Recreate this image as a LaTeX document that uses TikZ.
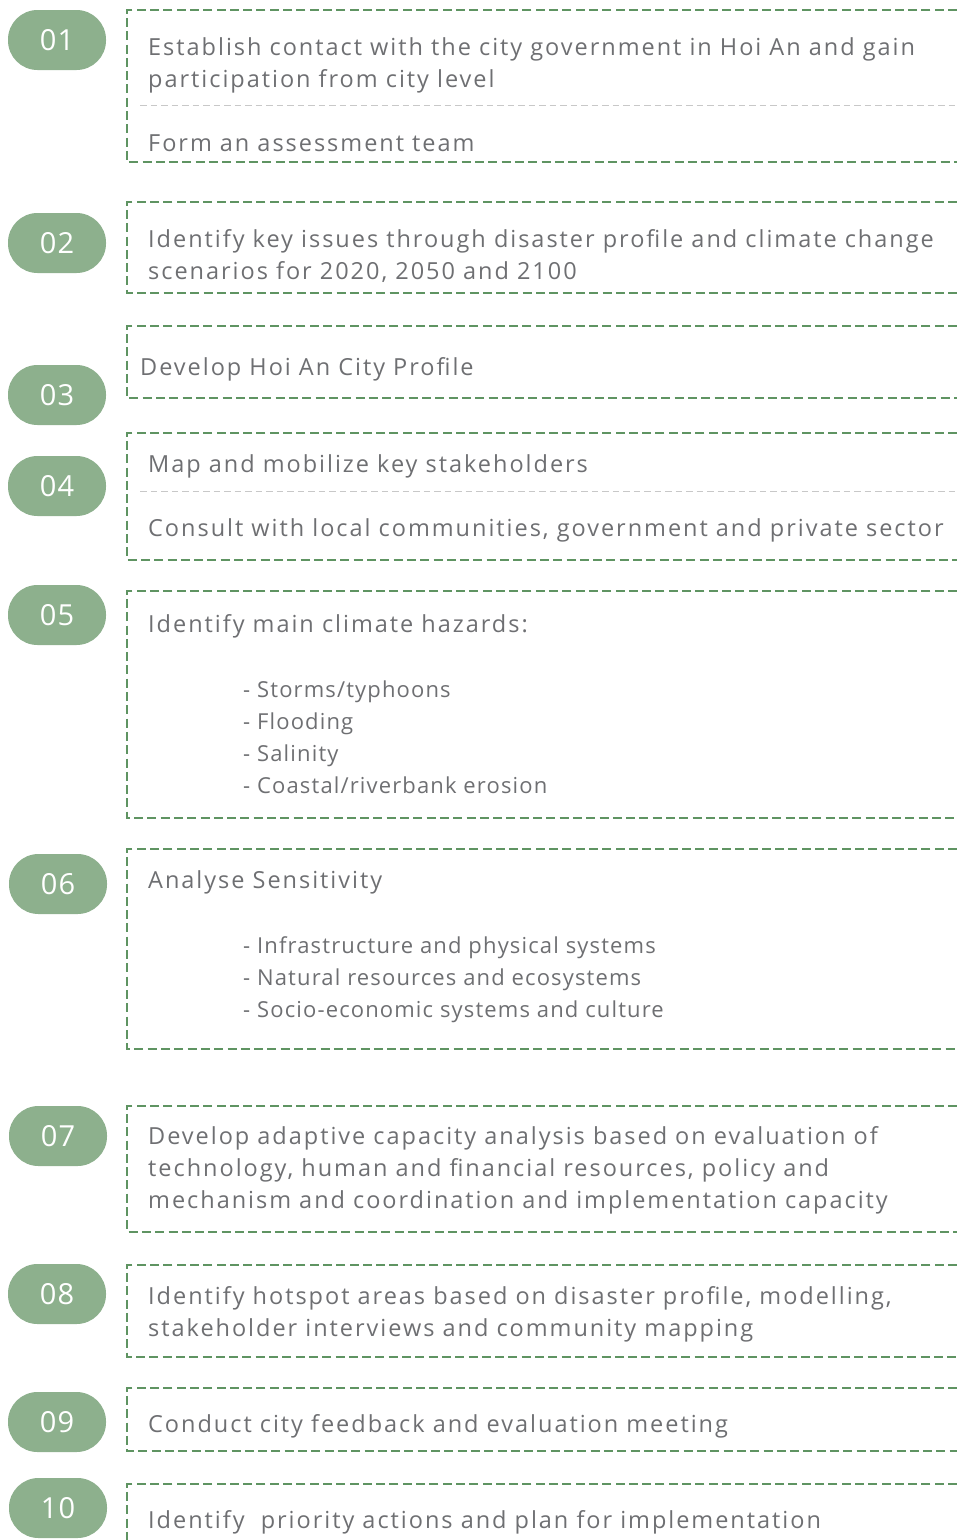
\documentclass[tikz,border=0pt]{standalone}
\usepackage{fontspec}
\newfontfamily\bodyfont[LetterSpace=8.4]{Open Sans}
\newfontfamily\bulletfont[LetterSpace=5.2]{Open Sans}
\newfontfamily\numfont[LetterSpace=4]{Open Sans}
\definecolor{pillgreen}{HTML}{8DB08D}
\definecolor{boxgreen}{HTML}{5F9462}
\definecolor{txtgray}{HTML}{6E6F72}
\definecolor{sepgray}{HTML}{C8C8C8}
\tikzset{
  pill/.style={rectangle, rounded corners=29.5pt, fill=pillgreen, minimum width=98pt, minimum height=60pt, inner sep=0pt, text=white, font=\numfont\fontsize{29}{29}\selectfont},
  frame/.style={draw=boxgreen, line width=2.2pt, dash pattern=on 9pt off 4.3pt},
  sepline/.style={draw=sepgray, line width=1pt, dash pattern=on 6.5pt off 4pt},
  txt/.style={anchor=base west, inner sep=0pt, text=txtgray, font=\bodyfont\fontsize{23.5}{32}\selectfont},
  btxt/.style={anchor=base west, inner sep=0pt, text=txtgray, font=\bulletfont\fontsize{22}{32}\selectfont},
}
\begin{document}
\begin{tikzpicture}[x=1pt,y=-1pt]
\useasboundingbox (0,0) rectangle (957,1540);
% pills
\node[pill] (p01) at (57,40) {01};
\node[pill] (p02) at (57,243) {02};
\node[pill] (p03) at (57,395) {03};
\node[pill] (p04) at (57,486) {04};
\node[pill] (p05) at (57,615) {05};
\node[pill] (p06) at (58,884) {06};
\node[pill] (p07) at (58,1136) {07};
\node[pill] (p08) at (57,1294) {08};
\node[pill] (p09) at (57,1422) {09};
\node[pill] (p10) at (58,1508) {10};
% frames (open on the right)
\draw[frame] (957,10) -- (127,10) -- (127,162) -- (957,162);
\draw[sepline] (140,105) -- (957,105);
\draw[frame] (957,202) -- (127,202) -- (127,293) -- (957,293);
\draw[frame] (957,326) -- (127,326) -- (127,398) -- (957,398);
\draw[frame] (957,433) -- (127,433) -- (127,560) -- (957,560);
\draw[sepline] (140,491) -- (957,491);
\draw[frame] (957,591) -- (127,591) -- (127,818) -- (957,818);
\draw[frame] (957,849) -- (127,849) -- (127,1049) -- (957,1049);
\draw[frame] (957,1106) -- (127,1106) -- (127,1232) -- (957,1232);
\draw[frame] (957,1265) -- (127,1265) -- (127,1357) -- (957,1357);
\draw[frame] (957,1388) -- (127,1388) -- (127,1451) -- (957,1451);
\draw[frame] (957,1484) -- (127,1484) -- (127,1545);
% texts
\node[txt] (t1a) at (148,55) {Establish contact with the city government in Hoi An and gain};
\node[txt] (t1b) at (148,87) {participation from city level};
\node[txt] (t1c) at (148,151) {Form an assessment team};
\node[txt] (t2a) at (148,247) {Identify key issues through disaster profile and climate change};
\node[txt] (t2b) at (148,279) {scenarios for 2020, 2050 and 2100};
\node[txt] (t3a) at (140,375) {Develop Hoi An City Profile};
\node[txt] (t4a) at (148,472) {Map and mobilize key stakeholders};
\node[txt] (t4b) at (148,536) {Consult with local communities, government and private sector};
\node[txt] (t5a) at (148,632) {Identify main climate hazards:};
\node[btxt] (t5b) at (243,697) {- Storms/typhoons};
\node[btxt] (t5c) at (243,729) {- Flooding};
\node[btxt] (t5d) at (243,761) {- Salinity};
\node[btxt] (t5e) at (243,793) {- Coastal/riverbank erosion};
\node[txt] (t6a) at (148,888) {Analyse Sensitivity};
\node[btxt] (t6b) at (243,953) {- Infrastructure and physical systems};
\node[btxt] (t6c) at (243,985) {- Natural resources and ecosystems};
\node[btxt] (t6d) at (243,1017) {- Socio-economic systems and culture};
\node[txt] (t7a) at (148,1144) {Develop adaptive capacity analysis based on evaluation of};
\node[txt] (t7b) at (148,1176) {technology, human and financial resources, policy and};
\node[txt] (t7c) at (148,1208) {mechanism and coordination and implementation capacity};
\node[txt] (t8a) at (148,1304) {Identify hotspot areas based on disaster profile, modelling,};
\node[txt] (t8b) at (148,1336) {stakeholder interviews and community mapping};
\node[txt] (t9a) at (148,1432) {Conduct city feedback and evaluation meeting};
\node[txt] (t10a) at (148,1528) {Identify\ \ priority actions and plan for implementation};
\end{tikzpicture}
\end{document}
